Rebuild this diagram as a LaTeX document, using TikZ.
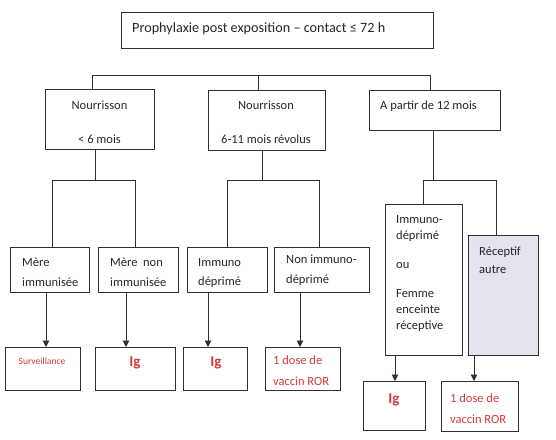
\documentclass[tikz,border=0pt]{standalone}
\usepackage{fontspec}
\setmainfont{Carlito}
\usetikzlibrary{arrows.meta}
\definecolor{ln}{HTML}{303030}
\definecolor{tx}{HTML}{262626}
\definecolor{rd}{HTML}{D8383C}
\definecolor{lav}{HTML}{E4E4EE}
\tikzset{
  box/.style={draw=ln, line width=0.9pt, inner sep=0pt, anchor=north west},
  txt/.style={text=tx, inner sep=0pt, font=\fontsize{12.5}{16}\selectfont},
  midtxt/.style={txt, anchor=north west, align=left, font=\fontsize{12.5}{19.5}\selectfont},
  red/.style={text=rd, inner sep=0pt, font=\fontsize{12.5}{20.5}\selectfont},
  igtxt/.style={text=rd, inner sep=0pt, font=\fontsize{15}{18}\bfseries},
  conn/.style={draw=ln, line width=0.9pt},
  arr/.style={draw=ln, line width=0.9pt, -{Triangle[width=6.5pt,length=6.5pt]}},
}
\begin{document}
\begin{tikzpicture}[x=1pt,y=-1pt]
\useasboundingbox (0,0) rectangle (556,439);
% top
\node[box, minimum width=312pt, minimum height=36pt] (top) at (121,12) {};
\node[txt, anchor=west, font=\fontsize{14.2}{17}\selectfont] (toptx) at (132,29) {Prophylaxie post exposition – contact ≤ 72 h};
% level 1
\node[box, minimum width=109pt, minimum height=60pt] (b1) at (45,89) {};
\node[txt] (b1a) at (99.5,105) {Nourrisson};
\node[txt] (b1b) at (99.5,139) {< 6 mois};
\node[box, minimum width=117pt, minimum height=60pt] (b2) at (208,90) {};
\node[txt] (b2a) at (266,105) {Nourrisson};
\node[txt] (b2b) at (266,139) {6-11 mois révolus};
\node[box, minimum width=131pt, minimum height=40pt] (b3) at (369,90) {};
\node[txt, anchor=west] (b3a) at (380,106) {A partir de 12 mois};
% connectors level 0->1
\coordinate (h1) at (92,75);
\coordinate (h2) at (258,75);
\coordinate (h3) at (430,75);
\draw[conn] (h1) -- (h3);
\draw[conn] (h1) -- (h1 |- b1.north);
\draw[conn] (h2) -- (h2 |- b2.north);
\draw[conn] (h3) -- (h3 |- b3.north);
% level 2
\node[box, minimum width=79pt, minimum height=45pt] (m1) at (10,247) {};
\node[midtxt] (m1t) at (22,258) {Mère\\immunisée};
\node[box, minimum width=80pt, minimum height=45pt] (m2) at (98,247) {};
\node[midtxt] (m2t) at (110,258) {Mère~~non\\immunisée};
\node[box, minimum width=80pt, minimum height=45pt] (m3) at (187,247) {};
\node[midtxt] (m3t) at (198,258) {Immuno\\déprimé};
\node[box, minimum width=95pt, minimum height=45pt] (m4) at (274,247) {};
\node[midtxt] (m4t) at (286,255) {Non immuno-\\déprimé};
\node[box, minimum width=77pt, minimum height=151pt] (L) at (385,204) {};
\node[txt, anchor=north west, align=left] (Lt) at (396,215) {Immuno-\\déprimé\\[13pt]ou\\[13pt]Femme\\enceinte\\réceptive};
\node[box, fill=lav, minimum width=70pt, minimum height=120pt] (R) at (468,235) {};
\node[txt, anchor=north west, align=left] (Rt) at (479,247) {Réceptif\\[2pt]autre};
% connectors level 1->2
\coordinate (v1) at (95,180);
\coordinate (v2) at (262,180);
\coordinate (v3) at (433,180);
\draw[conn] (v1 |- b1.south) -- (v1);
\draw[conn] (v2 |- b2.south) -- (v2);
\draw[conn] (v3 |- b3.south) -- (v3);
\coordinate (a1) at (52,180);
\coordinate (a2) at (135,180);
\coordinate (a3) at (227,180);
\coordinate (a4) at (319,180);
\coordinate (a5) at (423,180);
\coordinate (a6) at (496,180);
\draw[conn] (a1 |- m1.north) -- (a1) -- (a2) -- (a2 |- m2.north);
\draw[conn] (a3 |- m3.north) -- (a3) -- (a4) -- (a4 |- m4.north);
\draw[conn] (a5 |- L.north) -- (a5) -- (a6) -- (a6 |- R.north);
% bottom
\node[box, minimum width=75pt, minimum height=43pt] (s1) at (5,347) {};
\node[red, font=\fontsize{9.5}{11}\selectfont] (s1t) at (42,361) {Surveillance};
\node[box, minimum width=80pt, minimum height=43pt] (s2) at (95,347) {};
\node[igtxt] (s2t) at (135,363) {Ig};
\node[box, minimum width=64pt, minimum height=43pt] (s3) at (183,347) {};
\node[igtxt] (s3t) at (216,363) {Ig};
\node[box, minimum width=75pt, minimum height=43pt] (s4) at (265,347) {};
\node[red, anchor=north west, align=left] (s4t) at (273,356) {1 dose de\\vaccin ROR};
\node[box, minimum width=62pt, minimum height=49pt] (s5) at (363,381) {};
\node[igtxt] (s5t) at (394,400) {Ig};
\node[box, minimum width=77pt, minimum height=50pt] (s6) at (441,381) {};
\node[red, anchor=north west, align=left] (s6t) at (450,394) {1 dose de\\vaccin ROR};
% arrows
\coordinate (c1) at (46,0);
\coordinate (c2) at (126,0);
\coordinate (c3) at (208,0);
\coordinate (c4) at (300,0);
\coordinate (c5) at (395,0);
\coordinate (c6) at (474,0);
\draw[arr] (c1 |- m1.south) -- (c1 |- s1.north);
\draw[arr] (c2 |- m2.south) -- (c2 |- s2.north);
\draw[arr] (c3 |- m3.south) -- (c3 |- s3.north);
\draw[arr] (c4 |- m4.south) -- (c4 |- s4.north);
\draw[arr] (c5 |- L.south) -- (c5 |- s5.north);
\draw[arr] (c6 |- R.south) -- (c6 |- s6.north);
\end{tikzpicture}
\end{document}
